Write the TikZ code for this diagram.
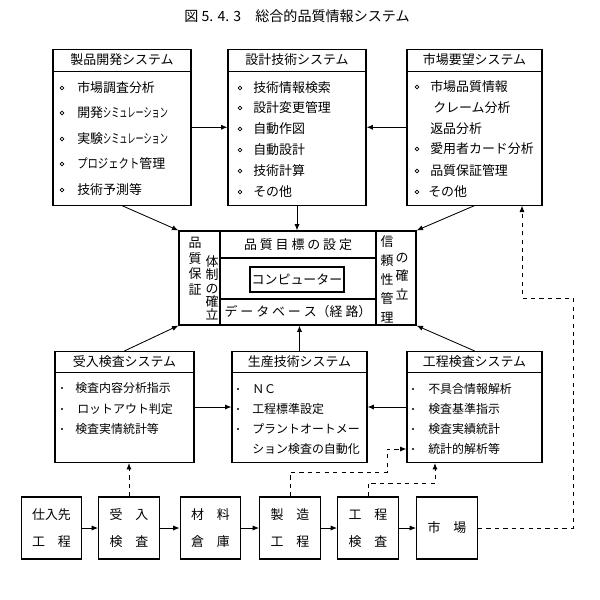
\documentclass[tikz,border=0pt]{standalone}
\usepackage{fontspec}
\setmainfont{Noto Sans CJK JP}
\usetikzlibrary{positioning,arrows.meta}
\newcommand{\narrowkana}[2][0.63]{\scalebox{#1}[1]{#2}}

\begin{document}
\begin{tikzpicture}[
  x=0.025cm, y=-0.025cm,
  font=\fontsize{9.2}{11}\selectfont,
  box/.style={draw, line width=0.8pt, inner sep=0pt},
  topbox/.style={box, minimum height=3.89cm},
  lowbox/.style={box, minimum height=2.775cm},
  proc/.style={box, minimum width=1.52cm, minimum height=1.55cm, align=center, font=\fontsize{9.2}{19}\selectfont},
  head/.style={inner sep=0pt},
  item/.style={anchor=west, inner sep=0pt},
  subitem/.style={item, font=\fontsize{8.5}{10}\selectfont},
  vcol/.style={align=center, inner sep=0pt},
  rule/.style={line width=0.8pt},
  arrow/.style={-{Latex[length=1.6mm,width=1.3mm]}, line width=0.6pt},
  dline/.style={arrow, dashed, line width=0.7pt}
]
\useasboundingbox (0,0) rectangle (600,600);

\node[inner sep=0pt, font=\fontsize{10}{12}\selectfont] (title) at (297,16) {図 5. 4. 3　総合的品質情報システム};

% upper systems
\node[topbox, minimum width=3.45cm] (prod) at (122,127.25) {};
\node[topbox, minimum width=3.45cm] (sekkei) at (297,127.25) {};
\node[topbox, minimum width=3.375cm] (youbou) at (474.5,127.25) {};
\foreach \b in {prod,sekkei,youbou}
  \draw[rule] ([yshift=-0.56cm]\b.north west) -- ([yshift=-0.56cm]\b.north east);
\node[head] (prodh) at ([yshift=-0.28cm]prod.north) {製品開発システム};
\node[head] (sekkeih) at ([yshift=-0.28cm]sekkei.north) {設計技術システム};
\node[head] (youbouh) at ([yshift=-0.28cm]youbou.north) {市場要望システム};

\node[item] (prod1) at (77,88) {市場調査分析};
\node[item] (prod2) at (77,113) {開発\narrowkana{シミュレーション}};
\node[item] (prod3) at (77,139) {実験\narrowkana{シミュレーション}};
\node[item] (prod4) at (77,164) {\narrowkana[0.8]{プロジェクト}管理};
\node[item] (prod5) at (77,190) {技術予測等};

\node[item] (sekkei1) at (253,88) {技術情報検索};
\node[item] (sekkei2) at (253,108) {設計変更管理};
\node[item] (sekkei3) at (253,129) {自動作図};
\node[item] (sekkei4) at (253,150) {自動設計};
\node[item] (sekkei5) at (253,171) {技術計算};
\node[item] (sekkei6) at (253,192) {その他};

\node[item] (youbou1) at (430,87) {市場品質情報};
\node[item] (youbou2) at (433,108) {クレーム分析};
\node[item] (youbou3) at (430,129) {返品分析};
\node[item] (youbou4) at (430,149) {愛用者カード分析};
\node[item] (youbou5) at (430,171) {品質保証管理};
\node[item] (youbou6) at (428,192) {その他};

\foreach \y in {88,113,139,164,190} \draw[line width=0.5pt] (62,\y) circle[radius=1.3pt];
\foreach \y in {88,108,129,150,171,192} \draw[line width=0.5pt] (240,\y) circle[radius=1.3pt];
\foreach \y in {87,149,171,192} \draw[line width=0.5pt] (417,\y) circle[radius=1.3pt];

% centre
\node[box, minimum width=5.925cm, minimum height=2.35cm] (core) at (297.5,278) {};
\draw[rule] (220,231) -- (220,325) (376,231) -- (376,325) (220,258) -- (376,258) (220,299) -- (376,299);
\node[inner sep=0pt] (goal) at (298,244.5) {品 質 目 標 の 設 定};
\node[box, minimum width=2.35cm, minimum height=0.625cm] (comp) at (297,279.5) {コンピューター};
\node[inner sep=0pt] (db) at (298,311.5) {デ ー タ ベ ー ス（経 路）};
\node[vcol, font=\fontsize{9.2}{11}\selectfont] (hosho) at (195,266.5) {品\\質\\保\\証};
\node[vcol, font=\fontsize{9.2}{9.5}\selectfont] (taisei) at (212,288) {体\\制\\の\\確\\立};
\node[vcol, font=\fontsize{9.2}{13.5}\selectfont] (shinrai) at (387,279) {信\\頼\\性\\管\\理};
\node[vcol, font=\fontsize{9.2}{13.2}\selectfont] (kakuritsu) at (402,276.5) {の\\確\\立};

% lower systems
\node[lowbox, minimum width=3.475cm] (ukeire) at (124.5,407) {};
\node[lowbox, minimum width=3.375cm] (seisan) at (299.5,407) {};
\node[lowbox, minimum width=3.375cm] (kotei) at (474.5,407) {};
\foreach \b in {ukeire,seisan,kotei}
  \draw[rule] ([yshift=-0.54cm]\b.north west) -- ([yshift=-0.54cm]\b.north east);
\node[head] (ukeireh) at ([yshift=-0.27cm]ukeire.north) {受入検査システム};
\node[head] (seisanh) at ([yshift=-0.27cm]seisan.north) {生産技術システム};
\node[head] (koteih) at ([yshift=-0.27cm]kotei.north) {工程検査システム};

\node[subitem] (ukeire1) at (75,388) {検査内容分析指示};
\node[subitem] (ukeire2) at (77,409) {ロットアウト判定};
\node[subitem] (ukeire3) at (75,429) {検査実情統計等};

\node[subitem] (seisan1) at (252,389) {ＮＣ};
\node[subitem] (seisan2) at (252,409) {工程標準設定};
\node[subitem] (seisan3) at (252,429) {プラントオートメー};
\node[subitem] (seisan4) at (252,449) {ション検査の自動化};

\node[subitem] (kotei1) at (428,389) {不具合情報解析};
\node[subitem] (kotei2) at (428,409) {検査基準指示};
\node[subitem] (kotei3) at (428,429) {検査実績統計};
\node[subitem] (kotei4) at (428,449) {統計的解析等};

\foreach \y in {388,409,429} \fill (62,\y) circle[radius=0.8pt];
\foreach \y in {389,409,429} \fill (238,\y) circle[radius=0.8pt];
\foreach \y in {389,409,429,449} \fill (413,\y) circle[radius=0.8pt];

% process flow
\node[proc] (p1) at (51.5,528) {仕入先\\工　程};
\node[proc] (p2) at (129,528) {受　入\\検　査};
\node[proc] (p3) at (210.5,528) {材　料\\倉　庫};
\node[proc] (p4) at (290,528) {製　造\\工　程};
\node[proc] (p5) at (368,528) {工　程\\検　査};
\node[proc] (p6) at (447,528) {市　場};

\draw[arrow] (p1) -- (p2);
\draw[arrow] (p2) -- (p3);
\draw[arrow] (p3) -- (p4);
\draw[arrow] (p4) -- (p5);
\draw[arrow] (p5) -- (p6);

% connections
\draw[arrow] (prod.east) -- (sekkei.west);
\draw[arrow] (youbou.west) -- (sekkei.east);
\draw[arrow] (sekkei.south) -- (sekkei.south |- core.north);
\draw[arrow] (prod.south) -- (core.north west);
\draw[arrow] (youbou.south) -- (core.north east);
\draw[arrow] (ukeire.north) -- (core.south west);
\draw[arrow] (seisan.north) -- (seisan.north |- core.south);
\draw[arrow] (kotei.north) -- (core.south east);
\draw[arrow] (ukeire.east) -- (seisan.west);
\draw[arrow] (kotei.west) -- (seisan.east);

\coordinate (d1) at (387,472);
\coordinate (d2) at (435,483);
\coordinate (d3) at (573,298);
\coordinate (d4) at (522,298);
\draw[dline] (p2.north) -- (p2.north |- ukeire.south);
\draw[dline] (p4.north) |- (d1) |- (kotei4 -| kotei.west);
\draw[dline] (p5.north) |- (d2) -- (d2 |- kotei.south);
\draw[dline] (p6.east) -| (d3) -- (d4) -- (d4 |- youbou.south);
\end{tikzpicture}
\end{document}
